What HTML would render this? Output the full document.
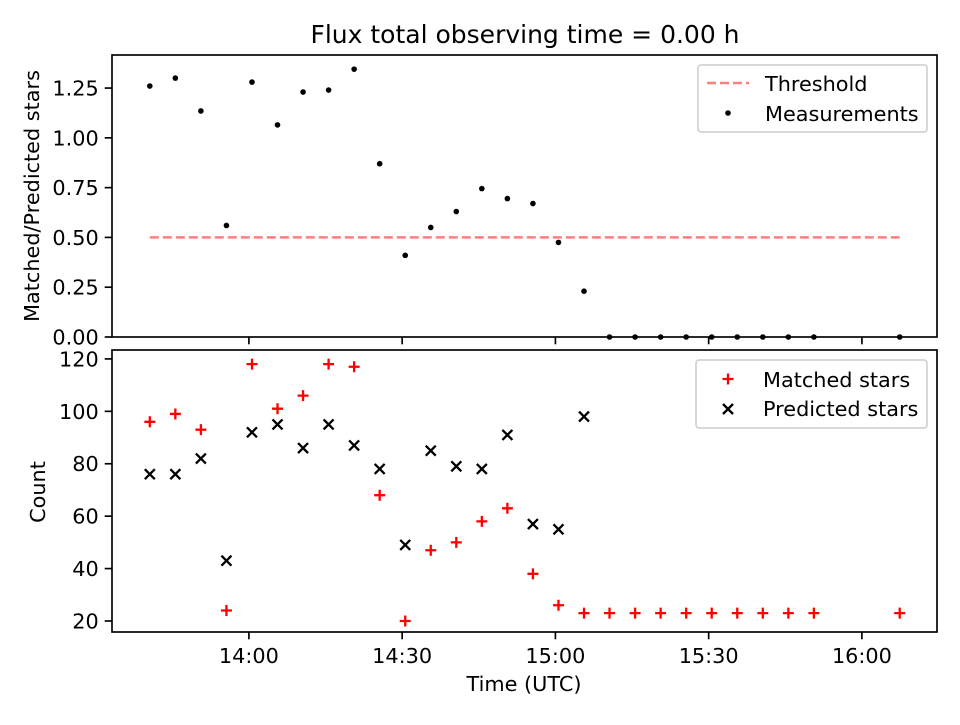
<!DOCTYPE html>
<html><head><meta charset="utf-8"><style>
body{margin:0;background:#fff;}
svg text{font-family:"DejaVu Sans","Liberation Sans",sans-serif;fill:#000;}
</style></head><body>
<svg id="c" width="960" height="720" viewBox="0 0 960 720" xmlns="http://www.w3.org/2000/svg">
<rect width="960" height="720" fill="#fff"/>
<text x="525" y="43" font-size="25" text-anchor="middle">Flux total observing time = 0.00 h</text>
<g id="topPanel"></g>
<g id="botPanel"></g>
</svg>
<script>
// times in minutes after 13:00
const times = [40.6,45.6,50.6,55.6,60.6,65.6,70.6,75.6,80.6,85.6,90.6,95.6,100.6,105.6,110.6,115.6,120.6,125.6,130.6,135.6,140.6,145.6,150.6,155.6,160.6,165.6,170.6,187.4];
const ratio = [1.26,1.30,1.135,0.56,1.28,1.065,1.23,1.24,1.345,0.87,0.41,0.55,0.63,0.745,0.695,0.67,0.475,0.23,0,0,0,0,0,0,0,0,0,0];
const matched = [96,99,93,24,118,101,106,118,117,68,20,47,50,58,63,38,26,23,23,23,23,23,23,23,23,23,23,23];
const predicted = [76,76,82,43,92,95,86,95,87,78,49,85,79,78,91,57,55,98];
const threshold = 0.5;
const xTickMins = [60,90,120,150,180];
const xTickLabels = ["14:00","14:30","15:00","15:30","16:00"];
const topTicks = [0,0.25,0.5,0.75,1.0,1.25];
const topTickLabels = ["0.00","0.25","0.50","0.75","1.00","1.25"];
const botTicks = [20,40,60,80,100,120];

const NS="http://www.w3.org/2000/svg";
const FS=20.8, TL=7.3, LW=1.67;
const L=112,R=937;
const xMin=33.2,xMax=194.7;
const X=m=>L+(m-xMin)/(xMax-xMin)*(R-L);
const T0=55,T1=337,tMin=0,tMax=1.416;
const YT=v=>T1-(v-tMin)/(tMax-tMin)*(T1-T0);
const B0=350,B1=632,bMin=15.8,bMax=123.4;
const YB=v=>B1-(v-bMin)/(bMax-bMin)*(B1-B0);
function el(p,tag,a,txt){const e=document.createElementNS(NS,tag);for(const k in a)e.setAttribute(k,a[k]);if(txt!==undefined)e.textContent=txt;p.appendChild(e);return e;}

const topG=document.getElementById('topPanel'), botG=document.getElementById('botPanel');
let th=el(topG,'line',{x1:X(times[0]),x2:X(times[times.length-1]),y1:YT(threshold),y2:YT(threshold),stroke:'#ff7f7f','stroke-width':2.5,'stroke-dasharray':'9,4'});


ratio.forEach((v,i)=>{const c=el(topG,'circle',{cx:X(times[i]),cy:YT(v),r:2.8,fill:'#000'});

});
let f=el(topG,'rect',{x:L,y:T0,width:R-L,height:T1-T0,fill:'none',stroke:'#000','stroke-width':LW});


topTicks.forEach((v,i)=>{el(topG,'line',{x1:L-TL,x2:L,y1:YT(v),y2:YT(v),stroke:'#000','stroke-width':LW});
const t=el(topG,'text',{x:L-TL-6,y:YT(v)+7.5,'font-size':FS,'text-anchor':'end'},topTickLabels[i]);

});
xTickMins.forEach(m=>el(topG,'line',{x1:X(m),x2:X(m),y1:T1,y2:T1+TL,stroke:'#000','stroke-width':LW}));
el(topG,'text',{x:39,y:196,'font-size':FS,'text-anchor':'middle',transform:'rotate(-90 39 196)',},'Matched/Predicted stars');
let lg=el(topG,'g',{});
el(lg,'rect',{x:698,y:65,width:229,height:67,rx:3,fill:'#fff','fill-opacity':0.8,stroke:'#ccc','stroke-width':1.5});
el(lg,'line',{x1:707,x2:749,y1:83,y2:83,stroke:'#ff7f7f','stroke-width':2.5,'stroke-dasharray':'9,4'});
el(lg,'text',{x:765,y:91,'font-size':FS},'Threshold');
el(lg,'circle',{cx:728,cy:113,r:2.8,fill:'#000'});
el(lg,'text',{x:765,y:121,'font-size':FS},'Measurements');

matched.forEach((v,i)=>{const x=X(times[i]),y=YB(v);
const g=el(botG,'path',{d:`M${x-5.5},${y}H${x+5.5}M${x},${y-5.5}V${y+5.5}`,stroke:'#f00','stroke-width':2.3});

});
predicted.forEach((v,i)=>{const x=X(times[i]),y=YB(v);
const g=el(botG,'path',{d:`M${x-5},${y-5}L${x+5},${y+5}M${x-5},${y+5}L${x+5},${y-5}`,stroke:'#000','stroke-width':2.3});

});
let f2=el(botG,'rect',{x:L,y:B0,width:R-L,height:B1-B0,fill:'none',stroke:'#000','stroke-width':LW});


botTicks.forEach(v=>{el(botG,'line',{x1:L-TL,x2:L,y1:YB(v),y2:YB(v),stroke:'#000','stroke-width':LW});
const t=el(botG,'text',{x:L-TL-6,y:YB(v)+7.5,'font-size':FS,'text-anchor':'end'},String(v));

});
xTickMins.forEach((m,i)=>{el(botG,'line',{x1:X(m),x2:X(m),y1:B1,y2:B1+TL,stroke:'#000','stroke-width':LW});
const t=el(botG,'text',{x:X(m),y:663,'font-size':FS,'text-anchor':'middle'},xTickLabels[i]);

});
el(botG,'text',{x:524,y:691,'font-size':FS,'text-anchor':'middle',},'Time (UTC)');
el(botG,'text',{x:45,y:492,'font-size':FS,'text-anchor':'middle',transform:'rotate(-90 45 492)',},'Count');
let lg2=el(botG,'g',{});
el(lg2,'rect',{x:696,y:360,width:231,height:68,rx:3,fill:'#fff','fill-opacity':0.8,stroke:'#ccc','stroke-width':1.5});
el(lg2,'path',{d:'M722.5,379H733.5M728,373.5V384.5',stroke:'#f00','stroke-width':2.3});
el(lg2,'text',{x:763,y:387,'font-size':FS},'Matched stars');
el(lg2,'path',{d:'M723,404L733,414M723,414L733,404',stroke:'#000','stroke-width':2.3});
el(lg2,'text',{x:763,y:416,'font-size':FS},'Predicted stars');
</script>
</body></html>
